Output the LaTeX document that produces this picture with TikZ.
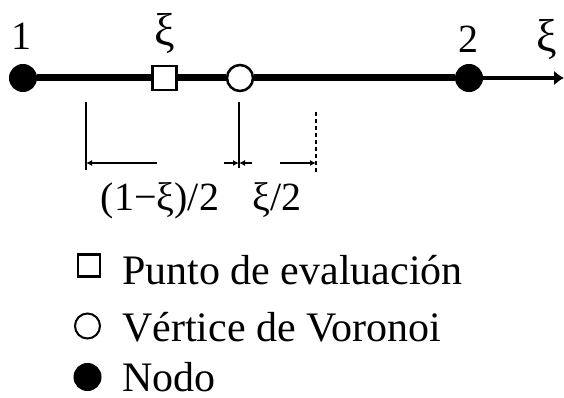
\documentclass[tikz,border=0pt]{standalone}
\usepackage{fontspec}
\setmainfont{Liberation Serif}
\usetikzlibrary{arrows.meta}
\newcommand{\bigxi}{{\fontsize{46}{48}\selectfont ξ}}

\begin{document}
\begin{tikzpicture}[x=1pt,y=-1pt,
  lbl/.style={inner sep=0pt,anchor=base,font=\fontsize{40}{48}\selectfont},
  legtext/.style={inner sep=0pt,anchor=base west,font=\fontsize{42}{50}\selectfont},
  fillnode/.style={circle,fill=black,draw=black,line width=1pt,minimum size=27pt,inner sep=0pt},
  opennode/.style={circle,fill=white,draw=black,line width=2.5pt,minimum size=26pt,inner sep=0pt},
  sqnode/.style={rectangle,fill=white,draw=black,line width=2.5pt,minimum size=24pt,inner sep=0pt},
  mainline/.style={line width=7pt},
  axisline/.style={line width=4pt,-{Latex[length=10pt,width=15pt]}},
  extline/.style={line width=2pt},
  dimline/.style={line width=2pt,-{Latex[length=6pt,width=6pt]}}
]
\useasboundingbox (0,0) rectangle (564,398);

% element: end nodes, evaluation point, Voronoi vertex
\node[fillnode] (n1) at (23,78) {};
\node[sqnode]   (sq) at (164.5,78) {};
\node[opennode] (vc) at (240,78) {};
\node[fillnode] (n2) at (469,78) {};
\coordinate (tip) at (564,78);

\draw[mainline] (n1) -- (sq) -- (vc) -- (n2);
\draw[axisline] (n2) -- (tip);

% labels above the element
\node[lbl] (l1)  at (22,50)  {1};
\node[lbl] (lxi) at (165,46) {\bigxi};
\node[lbl] (l2)  at (468,53) {2};
\node[lbl] (lax) at (547,52) {\bigxi};

% extension lines
\coordinate (e1t) at (86,102);  \coordinate (e1b) at (86,170);
\coordinate (e2t) at (239,102); \coordinate (e2b) at (239,168);
\coordinate (e3t) at (316,112); \coordinate (e3b) at (316,172);
\draw[extline] (e1t) -- (e1b);
\draw[extline] (e2t) -- (e2b);
\draw[extline,dash pattern=on 4pt off 3pt] (e3t) -- (e3b);

% dimension arrows
\coordinate (d1) at (86,163);
\coordinate (d1s) at (157,163);
\coordinate (d2) at (239,163);
\coordinate (d2l) at (224,163);
\coordinate (d2r) at (252,163);
\coordinate (d3s) at (280,163);
\coordinate (d3) at (316,163);
\draw[dimline] (d1s) -- (d1);
\draw[dimline] (d2l) -- (d2);
\draw[dimline] (d2r) -- (d2);
\draw[dimline] (d3s) -- (d3);

\node[lbl] (w1) at (160,210) {(1−ξ)/2};
\node[lbl] (w2) at (277,210) {ξ/2};

% legend
\node[sqnode,minimum size=22pt] (ks) at (89,265.5) {};
\node[legtext] (ts) at (122,284) {Punto de evaluación};
\node[opennode,minimum size=25pt,line width=2pt] (kv) at (87.5,326) {};
\node[legtext] (tv) at (122,341) {Vértice de Voronoi};
\node[fillnode] (kn) at (87.5,377) {};
\node[legtext] (tn) at (122,391) {Nodo};
\end{tikzpicture}
\end{document}
